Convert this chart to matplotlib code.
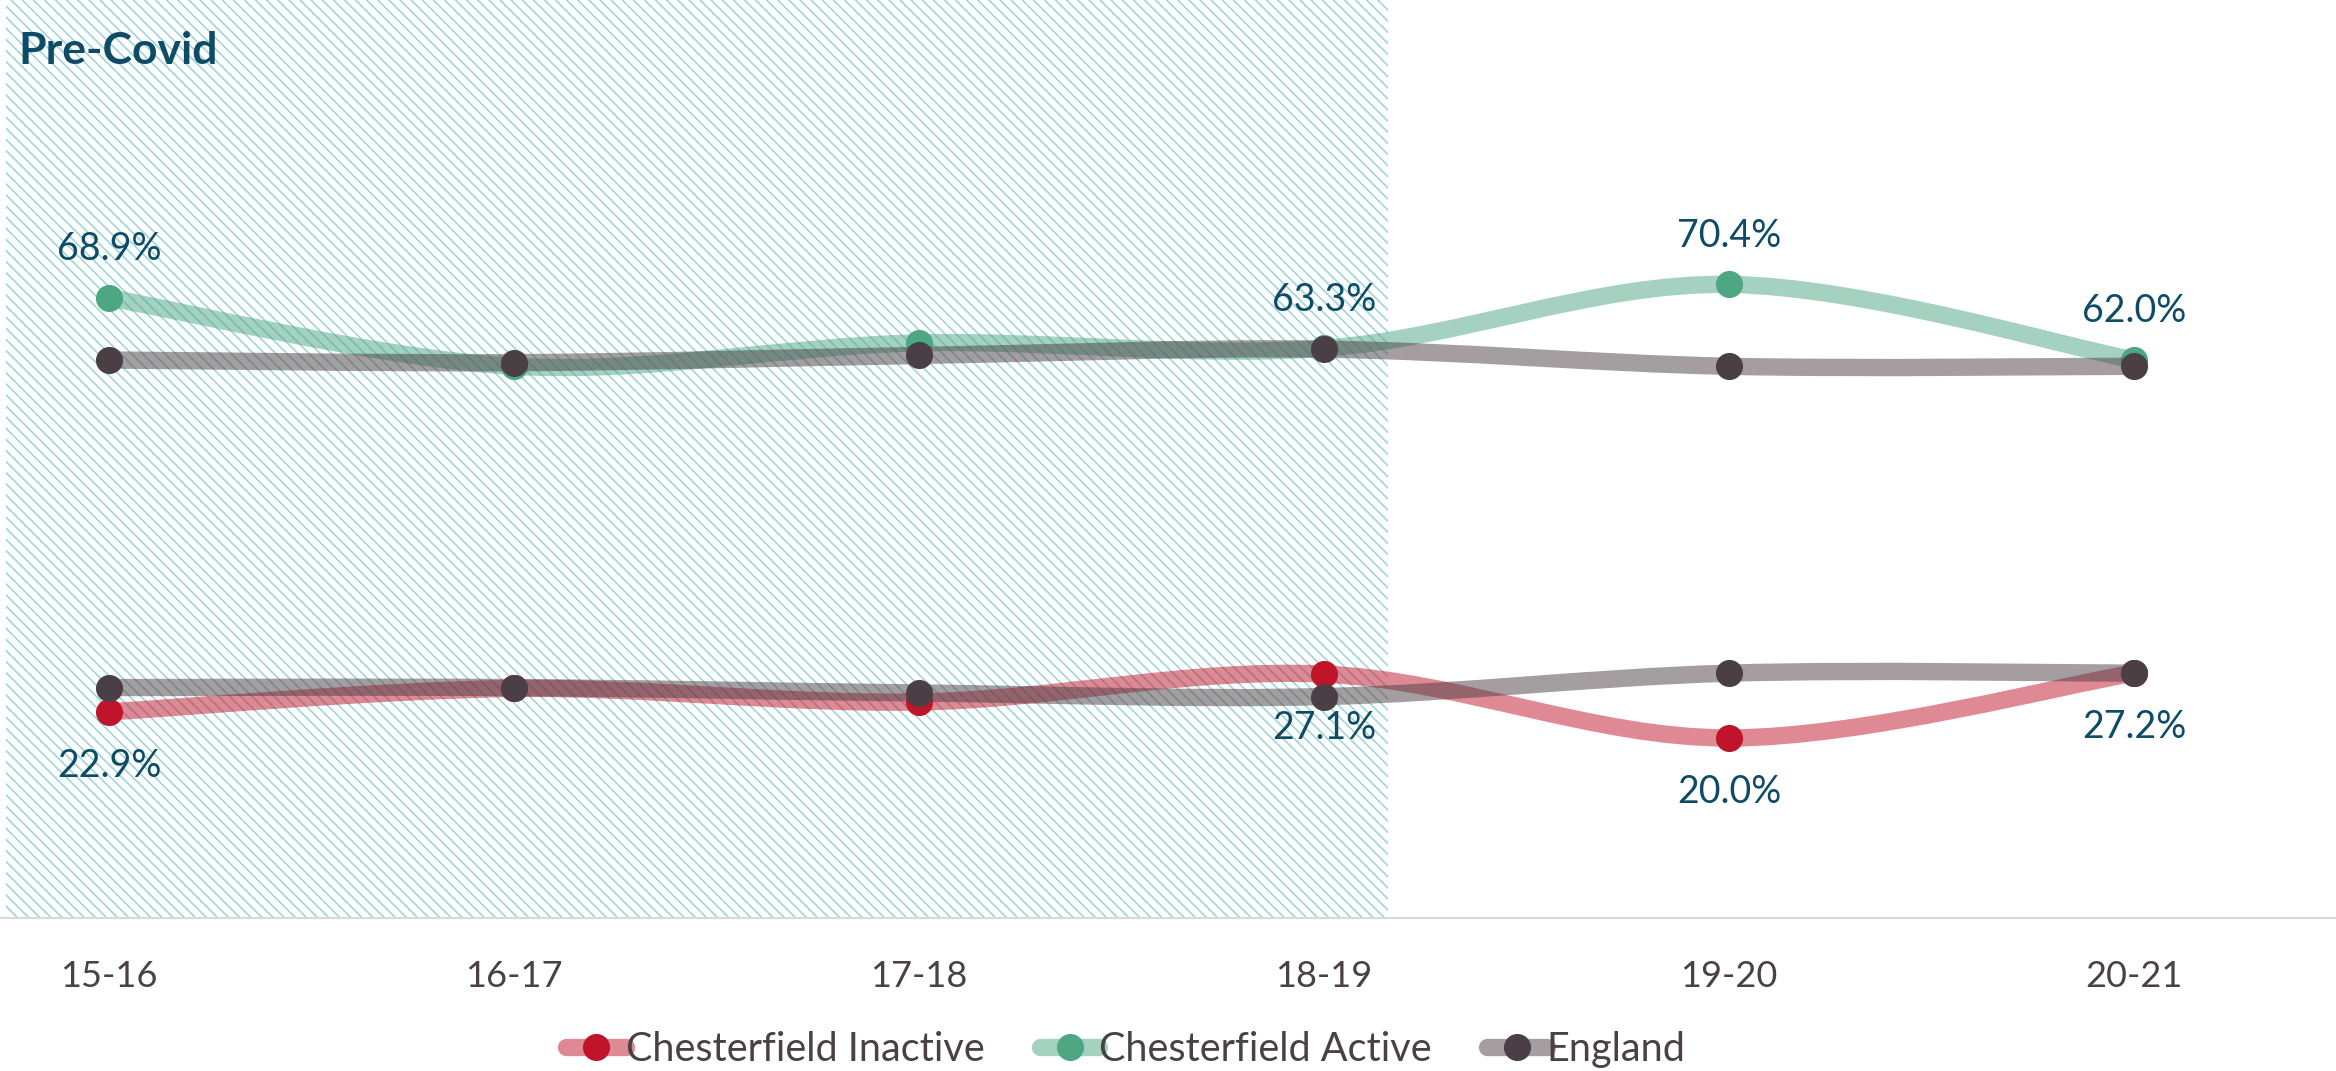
import matplotlib
from matplotlib import pyplot as plt
from matplotlib.path import Path
from matplotlib.patches import PathPatch
from matplotlib.lines import Line2D
import numpy as np

matplotlib.use("Agg")

years = ["15-16", "16-17", "17-18", "18-19", "19-20", "20-21"]
inactive = [22.9, 25.5, 24.0, 27.1, 20.0, 27.2]
active = [68.9, 61.3, 63.9, 63.3, 70.4, 62.0]
england_inactive = [25.6, 25.6, 25.0, 24.6, 27.2, 27.2]
england_active = [62.0, 61.7, 62.5, 63.2, 61.3, 61.3]
labelled = [0, 3, 4, 5]  # years that carry a value label

red = "#c0142a"
green = "#4ca782"
grey = "#4a3f44"
label_col = "#0e4b66"
text_col = "#4a4145"

plt.rcParams["font.family"] = ["Lato", "DejaVu Sans"]
plt.rcParams["hatch.linewidth"] = 1.2


def smooth_path(xs, ys):
    # bezier segments through every point, like a smoothed office line
    pts = np.column_stack([xs, ys]).astype(float)
    n = len(pts)
    verts = [pts[0]]
    codes = [Path.MOVETO]
    for i in range(n - 1):
        p0 = pts[max(i - 1, 0)]
        p1 = pts[i]
        p2 = pts[i + 1]
        p3 = pts[min(i + 2, n - 1)]
        verts += [p1 + (p2 - p0) / 6, p2 - (p3 - p1) / 6, p2]
        codes += [Path.CURVE4] * 3
    return Path(verts, codes)


def draw_series(ax, values, color, z):
    x = np.arange(len(values))
    ax.add_patch(PathPatch(smooth_path(x, values), fill=False, edgecolor=color,
                           alpha=0.5, lw=12.5, capstyle="round", zorder=z))
    ax.plot(x, values, "o", ms=19.5, color=color, mec="none", zorder=z + 0.1)


fig = plt.figure(figsize=(23.36, 10.71), dpi=100)
ax = fig.add_axes([0, 0.1429, 1, 0.8571])
ax.set_xlim(-0.269, 5.499)
ax.set_ylim(0, 102)

# shaded pre-covid years
ax.axvspan(-0.254, 3.158, facecolor="none", edgecolor="#a0d6d8", hatch="\\\\\\",
           lw=0, zorder=0)
ax.text(0.008, 0.944, "Pre-Covid", transform=ax.transAxes, fontsize=32,
        fontweight="bold", color=label_col, ha="left", va="center")

x = np.arange(len(years))
draw_series(ax, inactive, red, 2)
draw_series(ax, active, green, 3)
draw_series(ax, england_active, grey, 4)
draw_series(ax, england_inactive, grey, 4.5)

for i in labelled:
    ax.annotate(f"{active[i]:.1f}%", (i, active[i]), xytext=(0, 35),
                textcoords="offset points", ha="center", va="center",
                fontsize=27, color=label_col, zorder=10)
    ax.annotate(f"{inactive[i]:.1f}%", (i, inactive[i]), xytext=(0, -39),
                textcoords="offset points", ha="center", va="center",
                fontsize=27, color=label_col, zorder=10)

ax.set_xticks(x)
ax.set_xticklabels(years, fontsize=26, color=text_col)
ax.tick_params(axis="x", length=0, pad=30)
ax.set_yticks([])
for side in ["top", "left", "right"]:
    ax.spines[side].set_visible(False)
ax.spines["bottom"].set_color("#d9d9d9")
ax.spines["bottom"].set_linewidth(1.5)

handles = []
for name, color in [("Chesterfield Inactive", red), ("Chesterfield Active", green),
                    ("England", grey)]:
    handles.append(Line2D([], [], color=color, lw=12.5, alpha=0.5,
                          solid_capstyle="round", label=name))
# markers sit on top of the faded strokes in the key
dots = [Line2D([], [], ls="none", marker="o", ms=19.5, color=c, mec="none")
        for c in [red, green, grey]]
leg = fig.legend([(h, d) for h, d in zip(handles, dots)],
                 [h.get_label() for h in handles], loc="center",
                 bbox_to_anchor=(0.482, 0.02), ncol=3, frameon=False,
                 fontsize=28.5, handlelength=1.5, handletextpad=0.0,
                 columnspacing=1.4, labelcolor=text_col)

fig.savefig("out.png", dpi=100)
plt.close(fig)
